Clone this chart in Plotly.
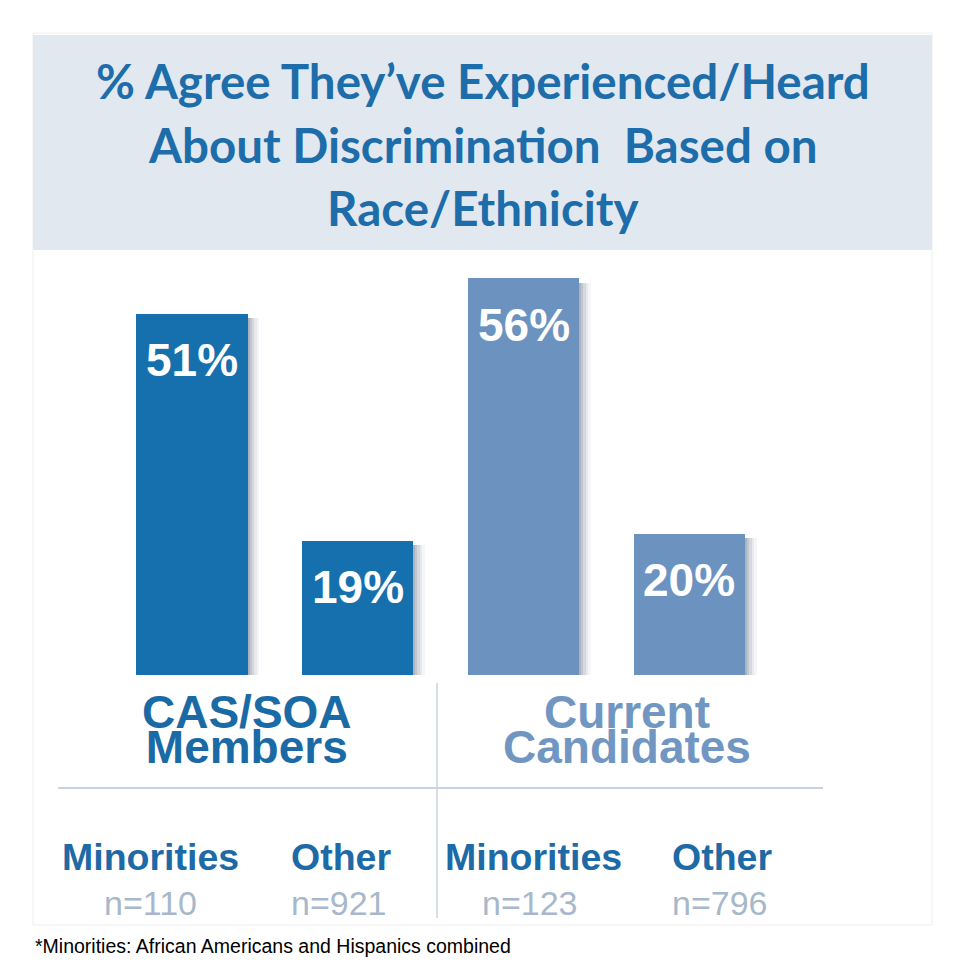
import plotly.graph_objects as go

# ---- data ----
groups = ["CAS/SOA", "Current"]
group_line2 = ["Members", "Candidates"]
categories = ["Minorities", "Other", "Minorities", "Other"]
values = [51, 19, 56, 20]
sample_sizes = ["n=110", "n=921", "n=123", "n=796"]
title_lines = ["% Agree They’ve Experienced/Heard", "About Discrimination  Based on", "Race/Ethnicity"]
footnote = "*Minorities: African Americans and Hispanics combined"

# ---- style ----
PAGE_OFF = 8            # browser body margin
W, H = 966 - PAGE_OFF, 978 - PAGE_OFF
DARK = "#1570ad"
LIGHT = "#6c93bf"
bar_colors = [DARK, DARK, LIGHT, LIGHT]
group_colors = ["#1a6aa6", "#7096c1"]
TITLE_COLOR = "#1d6dab"
CAT_COLOR = "#1d6aa6"
N_COLOR = "#a8b8cb"
LINE_COLOR = "#c9d3e0"
BAR_W = 0.67
UNIT = 165.8            # px per category step
X0 = 192                # px of first bar centre
Y0 = 675                # px of baseline
PX_PER_PCT = 7.09


def py(px):
    return 1 - (px - PAGE_OFF) / H


def pxx(px):
    return (px - PAGE_OFF) / W


x = list(range(len(values)))
fig = go.Figure()

# soft shadow layers
for off, alpha in [(0.07, 0.05), (0.055, 0.07), (0.04, 0.10), (0.025, 0.13), (0.012, 0.16)]:
    fig.add_trace(go.Bar(
        x=x, y=[v - 0.6 for v in values], width=BAR_W, offset=-BAR_W / 2 + off,
        marker=dict(color=f"rgba(60,75,100,{alpha})", line=dict(width=0)),
        hoverinfo="skip", showlegend=False))

fig.add_trace(go.Bar(
    x=x, y=values, width=BAR_W, offset=-BAR_W / 2,
    marker=dict(color=bar_colors, line=dict(width=0)),
    showlegend=False))

annotations = []
# value labels inside bars
for i, v in enumerate(values):
    annotations.append(dict(
        x=i, y=v, xref="x", yref="y", text=f"<b>{v}%</b>", showarrow=False,
        yanchor="middle", yshift=-47,
        font=dict(family="Liberation Sans, Arial", size=46, color="white")))

# title
for k, t in enumerate(title_lines):
    annotations.append(dict(
        x=pxx(483), y=py(81 + 63.5 * k), xref="paper", yref="paper", text=f"<b>{t}</b>",
        showarrow=False, xanchor="center", yanchor="middle",
        font=dict(family="Lato, Noto Sans", size=47.5, color=TITLE_COLOR)))

# group labels (two tight lines in one text)
group_cx = [247, 627]
for g in range(2):
    txt = (f"<span style='font-size:46px'><b>{groups[g]}</b></span><br>"
           f"<span style='font-size:46px'><b>{group_line2[g]}</b></span>")
    annotations.append(dict(
        x=pxx(group_cx[g]), y=py(729), xref="paper", yref="paper", text=txt,
        showarrow=False, xanchor="center", yanchor="middle",
        font=dict(family="Liberation Sans, Arial", size=27, color=group_colors[g])))

# category labels + sample sizes
cat_cx = [150, 341, 533, 722]
n_cx = [150, 339, 530, 720]
for i in range(len(categories)):
    annotations.append(dict(
        x=pxx(cat_cx[i]), y=py(857), xref="paper", yref="paper", text=f"<b>{categories[i]}</b>",
        showarrow=False, xanchor="center", yanchor="middle",
        font=dict(family="Liberation Sans, Arial", size=37.5, color=CAT_COLOR)))
    annotations.append(dict(
        x=pxx(n_cx[i]), y=py(903), xref="paper", yref="paper", text=sample_sizes[i],
        showarrow=False, xanchor="center", yanchor="middle",
        font=dict(family="Liberation Sans, Arial", size=34, color=N_COLOR)))

# footnote
annotations.append(dict(
    x=pxx(33), y=py(946), xref="paper", yref="paper", text=footnote,
    showarrow=False, xanchor="left", yanchor="middle",
    font=dict(family="Liberation Sans, Arial", size=19.5, color="black")))

shapes = [
    dict(type="rect", xref="paper", yref="paper", x0=pxx(33), x1=pxx(932), y0=py(925), y1=py(33),
         line=dict(color="#eeeeee", width=1), fillcolor="#ffffff", layer="below"),
    dict(type="rect", xref="paper", yref="paper", x0=pxx(33), x1=pxx(932), y0=py(250), y1=py(35),
         line=dict(width=0), fillcolor="#e2e8ef", layer="below"),
    dict(type="line", xref="paper", yref="paper", x0=pxx(58), x1=pxx(823), y0=py(788), y1=py(788),
         line=dict(color=LINE_COLOR, width=2)),
    dict(type="line", xref="paper", yref="paper", x0=pxx(437), x1=pxx(437), y0=py(683), y1=py(918),
         line=dict(color=LINE_COLOR, width=1.5)),
]

y_top_pct = 60
y_top_px = Y0 - y_top_pct * PX_PER_PCT
fig.update_layout(
    width=W, height=H,
    margin=dict(l=0, r=0, t=0, b=0),
    paper_bgcolor="white", plot_bgcolor="rgba(0,0,0,0)",
    barmode="overlay", bargap=0,
    xaxis=dict(range=[-(X0 - PAGE_OFF) / UNIT, (W - (X0 - PAGE_OFF)) / UNIT], domain=[0, 1],
               visible=False, fixedrange=True),
    yaxis=dict(range=[0, y_top_pct], domain=[py(Y0), py(y_top_px)], visible=False, fixedrange=True),
    annotations=annotations, shapes=shapes,
)

fig.write_html("out.html")
